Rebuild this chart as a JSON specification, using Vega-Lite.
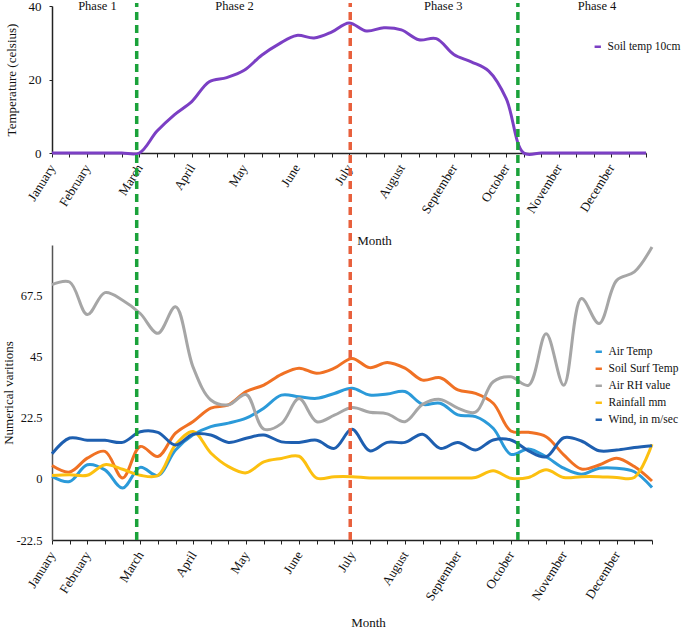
{
  "$schema": "https://vega.github.io/schema/vega-lite/v6.json",
  "autosize": {"type": "pad"},
  "padding": {"left": 2, "top": 0, "right": 0, "bottom": 0},
  "background": "white",
  "config": {
    "font": "Liberation Serif",
    "view": {"stroke": null},
    "axis": {"grid": false, "labelFont": "Liberation Serif", "titleFont": "Liberation Serif", "labelColor": "#111", "titleColor": "#111", "titleFontWeight": "normal", "domainColor": "#222", "tickColor": "#222", "domainWidth": 1.5, "labelOverlap": false},
    "legend": {"labelFont": "Liberation Serif", "labelColor": "#111"}
  },
  "datasets": {
    "soil10": [
      {"step":0,"series":"Soil temp 10cm","value":0},{"step":1,"series":"Soil temp 10cm","value":0},{"step":2,"series":"Soil temp 10cm","value":0},{"step":3,"series":"Soil temp 10cm","value":0},{"step":4,"series":"Soil temp 10cm","value":0},{"step":5,"series":"Soil temp 10cm","value":0},{"step":6,"series":"Soil temp 10cm","value":5.9},{"step":7,"series":"Soil temp 10cm","value":10.4},{"step":8,"series":"Soil temp 10cm","value":14},{"step":9,"series":"Soil temp 10cm","value":19.4},{"step":10,"series":"Soil temp 10cm","value":20.5},{"step":11,"series":"Soil temp 10cm","value":22.5},{"step":12,"series":"Soil temp 10cm","value":26.6},{"step":13,"series":"Soil temp 10cm","value":29.7},{"step":14,"series":"Soil temp 10cm","value":32},{"step":15,"series":"Soil temp 10cm","value":31.3},{"step":16,"series":"Soil temp 10cm","value":32.9},{"step":17,"series":"Soil temp 10cm","value":35.4},{"step":18,"series":"Soil temp 10cm","value":33.2},{"step":19,"series":"Soil temp 10cm","value":34.1},{"step":20,"series":"Soil temp 10cm","value":33.5},{"step":21,"series":"Soil temp 10cm","value":30.8},{"step":22,"series":"Soil temp 10cm","value":31.1},{"step":23,"series":"Soil temp 10cm","value":26.8},{"step":24,"series":"Soil temp 10cm","value":24.8},{"step":25,"series":"Soil temp 10cm","value":22.3},{"step":26,"series":"Soil temp 10cm","value":14.8},{"step":27,"series":"Soil temp 10cm","value":0},{"step":28,"series":"Soil temp 10cm","value":0},{"step":29,"series":"Soil temp 10cm","value":0},{"step":30,"series":"Soil temp 10cm","value":0},{"step":31,"series":"Soil temp 10cm","value":0},{"step":32,"series":"Soil temp 10cm","value":0},{"step":33,"series":"Soil temp 10cm","value":0},{"step":34,"series":"Soil temp 10cm","value":0}
    ],
    "met": [
      {"step":0,"series":"Air Temp","value":0.9},{"step":1,"series":"Air Temp","value":-1.0},{"step":2,"series":"Air Temp","value":5.2},{"step":3,"series":"Air Temp","value":3.3},{"step":4,"series":"Air Temp","value":-3.4},{"step":5,"series":"Air Temp","value":4.2},{"step":6,"series":"Air Temp","value":1.2},{"step":7,"series":"Air Temp","value":10.6},{"step":8,"series":"Air Temp","value":16.2},{"step":9,"series":"Air Temp","value":19.2},{"step":10,"series":"Air Temp","value":20.5},{"step":11,"series":"Air Temp","value":22.3},{"step":12,"series":"Air Temp","value":26},{"step":13,"series":"Air Temp","value":30.8},{"step":14,"series":"Air Temp","value":30.2},{"step":15,"series":"Air Temp","value":29.6},{"step":16,"series":"Air Temp","value":31.4},{"step":17,"series":"Air Temp","value":33.3},{"step":18,"series":"Air Temp","value":30.8},{"step":19,"series":"Air Temp","value":31.2},{"step":20,"series":"Air Temp","value":32.1},{"step":21,"series":"Air Temp","value":27.4},{"step":22,"series":"Air Temp","value":27.8},{"step":23,"series":"Air Temp","value":23.5},{"step":24,"series":"Air Temp","value":22.9},{"step":25,"series":"Air Temp","value":18.6},{"step":26,"series":"Air Temp","value":9.0},{"step":27,"series":"Air Temp","value":11.0},{"step":28,"series":"Air Temp","value":8.1},{"step":29,"series":"Air Temp","value":3.9},{"step":30,"series":"Air Temp","value":1.7},{"step":31,"series":"Air Temp","value":3.9},{"step":32,"series":"Air Temp","value":3.9},{"step":33,"series":"Air Temp","value":2.6},{"step":34,"series":"Air Temp","value":-3.2},
      {"step":0,"series":"Soil Surf Temp","value":4.9},{"step":1,"series":"Soil Surf Temp","value":2.5},{"step":2,"series":"Soil Surf Temp","value":7.6},{"step":3,"series":"Soil Surf Temp","value":10.1},{"step":4,"series":"Soil Surf Temp","value":0.3},{"step":5,"series":"Soil Surf Temp","value":11.9},{"step":6,"series":"Soil Surf Temp","value":8.2},{"step":7,"series":"Soil Surf Temp","value":16.8},{"step":8,"series":"Soil Surf Temp","value":21.1},{"step":9,"series":"Soil Surf Temp","value":26},{"step":10,"series":"Soil Surf Temp","value":27.2},{"step":11,"series":"Soil Surf Temp","value":32.1},{"step":12,"series":"Soil Surf Temp","value":34.5},{"step":13,"series":"Soil Surf Temp","value":38.4},{"step":14,"series":"Soil Surf Temp","value":40.7},{"step":15,"series":"Soil Surf Temp","value":38.8},{"step":16,"series":"Soil Surf Temp","value":40.7},{"step":17,"series":"Soil Surf Temp","value":44.3},{"step":18,"series":"Soil Surf Temp","value":40.9},{"step":19,"series":"Soil Surf Temp","value":42.8},{"step":20,"series":"Soil Surf Temp","value":40.7},{"step":21,"series":"Soil Surf Temp","value":36.3},{"step":22,"series":"Soil Surf Temp","value":37.2},{"step":23,"series":"Soil Surf Temp","value":32.7},{"step":24,"series":"Soil Surf Temp","value":31.4},{"step":25,"series":"Soil Surf Temp","value":27.8},{"step":26,"series":"Soil Surf Temp","value":17.6},{"step":27,"series":"Soil Surf Temp","value":17.1},{"step":28,"series":"Soil Surf Temp","value":15.5},{"step":29,"series":"Soil Surf Temp","value":8.8},{"step":30,"series":"Soil Surf Temp","value":3.6},{"step":31,"series":"Soil Surf Temp","value":5.1},{"step":32,"series":"Soil Surf Temp","value":7.6},{"step":33,"series":"Soil Surf Temp","value":4.5},{"step":34,"series":"Soil Surf Temp","value":-0.8},
      {"step":0,"series":"Air RH value","value":71.4},{"step":1,"series":"Air RH value","value":72.4},{"step":2,"series":"Air RH value","value":60.4},{"step":3,"series":"Air RH value","value":68.5},{"step":4,"series":"Air RH value","value":65.7},{"step":5,"series":"Air RH value","value":60.8},{"step":6,"series":"Air RH value","value":53.5},{"step":7,"series":"Air RH value","value":63.3},{"step":8,"series":"Air RH value","value":41},{"step":9,"series":"Air RH value","value":29},{"step":10,"series":"Air RH value","value":27.2},{"step":11,"series":"Air RH value","value":31},{"step":12,"series":"Air RH value","value":18.3},{"step":13,"series":"Air RH value","value":20.3},{"step":14,"series":"Air RH value","value":29.5},{"step":15,"series":"Air RH value","value":21},{"step":16,"series":"Air RH value","value":23.4},{"step":17,"series":"Air RH value","value":26.2},{"step":18,"series":"Air RH value","value":24.5},{"step":19,"series":"Air RH value","value":23.9},{"step":20,"series":"Air RH value","value":21},{"step":21,"series":"Air RH value","value":27.4},{"step":22,"series":"Air RH value","value":29.2},{"step":23,"series":"Air RH value","value":26},{"step":24,"series":"Air RH value","value":24.5},{"step":25,"series":"Air RH value","value":35.7},{"step":26,"series":"Air RH value","value":37.5},{"step":27,"series":"Air RH value","value":34.4},{"step":28,"series":"Air RH value","value":53.4},{"step":29,"series":"Air RH value","value":34.4},{"step":30,"series":"Air RH value","value":66.3},{"step":31,"series":"Air RH value","value":57.1},{"step":32,"series":"Air RH value","value":73},{"step":33,"series":"Air RH value","value":76.1},{"step":34,"series":"Air RH value","value":85.3},
      {"step":0,"series":"Rainfall mm","value":1.2},{"step":1,"series":"Rainfall mm","value":1.5},{"step":2,"series":"Rainfall mm","value":1.3},{"step":3,"series":"Rainfall mm","value":5.2},{"step":4,"series":"Rainfall mm","value":3.5},{"step":5,"series":"Rainfall mm","value":1.3},{"step":6,"series":"Rainfall mm","value":1.2},{"step":7,"series":"Rainfall mm","value":12.5},{"step":8,"series":"Rainfall mm","value":17.4},{"step":9,"series":"Rainfall mm","value":9.5},{"step":10,"series":"Rainfall mm","value":4.5},{"step":11,"series":"Rainfall mm","value":2.2},{"step":12,"series":"Rainfall mm","value":6.2},{"step":13,"series":"Rainfall mm","value":7.5},{"step":14,"series":"Rainfall mm","value":8.3},{"step":15,"series":"Rainfall mm","value":0.3},{"step":16,"series":"Rainfall mm","value":0.8},{"step":17,"series":"Rainfall mm","value":0.8},{"step":18,"series":"Rainfall mm","value":0.3},{"step":19,"series":"Rainfall mm","value":0.3},{"step":20,"series":"Rainfall mm","value":0.3},{"step":21,"series":"Rainfall mm","value":0.3},{"step":22,"series":"Rainfall mm","value":0.3},{"step":23,"series":"Rainfall mm","value":0.3},{"step":24,"series":"Rainfall mm","value":0.5},{"step":25,"series":"Rainfall mm","value":3.0},{"step":26,"series":"Rainfall mm","value":0.2},{"step":27,"series":"Rainfall mm","value":0.5},{"step":28,"series":"Rainfall mm","value":3.3},{"step":29,"series":"Rainfall mm","value":0.5},{"step":30,"series":"Rainfall mm","value":0.8},{"step":31,"series":"Rainfall mm","value":0.8},{"step":32,"series":"Rainfall mm","value":0.5},{"step":33,"series":"Rainfall mm","value":0.5},{"step":34,"series":"Rainfall mm","value":12.7},
      {"step":0,"series":"Wind, in m/sec","value":9.2},{"step":1,"series":"Wind, in m/sec","value":15},{"step":2,"series":"Wind, in m/sec","value":14.2},{"step":3,"series":"Wind, in m/sec","value":14.2},{"step":4,"series":"Wind, in m/sec","value":13.4},{"step":5,"series":"Wind, in m/sec","value":17.3},{"step":6,"series":"Wind, in m/sec","value":17.1},{"step":7,"series":"Wind, in m/sec","value":12.4},{"step":8,"series":"Wind, in m/sec","value":16.4},{"step":9,"series":"Wind, in m/sec","value":16.1},{"step":10,"series":"Wind, in m/sec","value":13.4},{"step":11,"series":"Wind, in m/sec","value":14.9},{"step":12,"series":"Wind, in m/sec","value":16.1},{"step":13,"series":"Wind, in m/sec","value":13.6},{"step":14,"series":"Wind, in m/sec","value":13.4},{"step":15,"series":"Wind, in m/sec","value":14.2},{"step":16,"series":"Wind, in m/sec","value":11.2},{"step":17,"series":"Wind, in m/sec","value":18.2},{"step":18,"series":"Wind, in m/sec","value":10.3},{"step":19,"series":"Wind, in m/sec","value":13.4},{"step":20,"series":"Wind, in m/sec","value":13.4},{"step":21,"series":"Wind, in m/sec","value":16.4},{"step":22,"series":"Wind, in m/sec","value":11.2},{"step":23,"series":"Wind, in m/sec","value":13.4},{"step":24,"series":"Wind, in m/sec","value":10.6},{"step":25,"series":"Wind, in m/sec","value":14.3},{"step":26,"series":"Wind, in m/sec","value":14.3},{"step":27,"series":"Wind, in m/sec","value":10.3},{"step":28,"series":"Wind, in m/sec","value":8.1},{"step":29,"series":"Wind, in m/sec","value":15.1},{"step":30,"series":"Wind, in m/sec","value":13.9},{"step":31,"series":"Wind, in m/sec","value":10.3},{"step":32,"series":"Wind, in m/sec","value":10.6},{"step":33,"series":"Wind, in m/sec","value":11.5},{"step":34,"series":"Wind, in m/sec","value":12.2}
    ],
    "phases": [
      {"pos":2.6,"label":"Phase 1"},{"pos":10.45,"label":"Phase 2"},{"pos":22.4,"label":"Phase 3"},{"pos":31.2,"label":"Phase 4"}
    ],
    "dividers": [
      {"pos":4.8,"kind":"green"},{"pos":16.9,"kind":"orange"},{"pos":26.4,"kind":"green"}
    ]
  },
  "bounds": "flush",
  "spacing": 92,
  "resolve": {"scale": {"color": "independent"}, "legend": {"color": "independent"}},
  "vconcat": [
    {
      "width": 594,
      "height": 147,
      "layer": [
        {
          "data": {"name": "soil10"},
          "mark": {"type": "line", "interpolate": "catmull-rom", "strokeWidth": 3},
          "encoding": {
            "x": {"field": "step", "type": "quantitative", "scale": {"domain": [0, 34], "nice": false, "zero": false},
              "axis": {"title": "Month", "values": [0,1,2,3,4,5,6,7,8,9,10,11,12,13,14,15,16,17,18,19,20,21,22,23,24,25,26,27,28,29,30,31,32,33,34], "tickCount": 40,
                "labelExpr": "datum.value==0?'January':datum.value==2?'February':datum.value==5?'March':datum.value==8?'April':datum.value==11?'May':datum.value==14?'June':datum.value==17?'July':datum.value==20?'August':datum.value==23?'September':datum.value==26?'October':datum.value==29?'November':datum.value==32?'December':''",
                "labelAngle": -58, "labelAlign": "right", "labelBaseline": "middle", "labelFontSize": 13, "labelOverlap": false, "labelBound": false, "labelFlush": false,
                "tickSize": 4, "labelPadding": 8, "titleFontSize": 13, "titleX": 322, "titleY": 81, "titleBaseline": "top"}},
            "y": {"field": "value", "type": "quantitative", "scale": {"domain": [0, 40], "nice": false},
              "axis": {"title": "Temperature (celsius)", "values": [0,10,20,30,40], "tickSize": 3, "labelPadding": 8, "titlePadding": 10, "labelFontSize": 13, "titleFontSize": 13}},
            "color": {"field": "series", "type": "nominal", "scale": {"domain": ["Soil temp 10cm"], "range": ["#7b3fc4"]},
              "legend": {"title": null, "orient": "none", "legendX": 540, "legendY": 35, "symbolType": "stroke", "symbolStrokeWidth": 2.5, "symbolSize": 40, "labelFontSize": 11.5}}
          }
        },
        {
          "data": {"name": "phases"},
          "mark": {"type": "text", "fontSize": 12.5, "baseline": "middle", "align": "center", "color": "#111"},
          "encoding": {
            "x": {"field": "pos", "type": "quantitative"},
            "y": {"datum": 40},
            "text": {"field": "label"}
          }
        }
      ]
    },
    {
      "width": 600,
      "height": 295,
      "layer": [
        {
          "data": {"name": "met"},
          "mark": {"type": "line", "interpolate": "catmull-rom", "strokeWidth": 3},
          "encoding": {
            "x": {"field": "step", "type": "quantitative", "scale": {"domain": [0, 34], "nice": false, "zero": false},
              "axis": {"title": "Month", "values": [0,1,2,3,4,5,6,7,8,9,10,11,12,13,14,15,16,17,18,19,20,21,22,23,24,25,26,27,28,29,30,31,32,33,34], "tickCount": 40,
                "labelExpr": "datum.value==0?'January':datum.value==2?'February':datum.value==5?'March':datum.value==8?'April':datum.value==11?'May':datum.value==14?'June':datum.value==17?'July':datum.value==20?'August':datum.value==23?'September':datum.value==26?'October':datum.value==29?'November':datum.value==32?'December':''",
                "labelAngle": -58, "labelAlign": "right", "labelBaseline": "middle", "labelFontSize": 13, "labelOverlap": false, "labelBound": false, "labelFlush": false,
                "tickSize": 4, "labelPadding": 8, "titleFontSize": 13, "titleX": 316, "titleY": 76, "titleBaseline": "top"}},
            "y": {"field": "value", "type": "quantitative", "scale": {"domain": [-22.5, 86], "nice": false, "zero": false},
              "axis": {"title": "Numerical varitions", "values": [-22.5, 0, 22.5, 45, 67.5], "labelExpr": "'' + datum.value", "tickSize": 0, "labelPadding": 10, "titlePadding": 0, "labelFontSize": 12.5, "titleFontSize": 13, "domainColor": "#555"}},
            "color": {"field": "series", "type": "nominal",
              "scale": {"domain": ["Air Temp", "Soil Surf Temp", "Air RH value", "Rainfall mm", "Wind, in m/sec"], "range": ["#2b9ad9", "#f07124", "#a6a6a6", "#fcc010", "#1e5fb0"]},
              "legend": {"title": null, "orient": "none", "legendX": 541, "legendY": 101, "symbolType": "stroke", "symbolStrokeWidth": 2.5, "symbolSize": 40, "labelFontSize": 11.5, "rowPadding": 4}}
          }
        },
        {
          "data": {"name": "dividers"},
          "transform": [{"filter": "datum.kind == 'green'"}],
          "mark": {"type": "rule", "color": "#1aa23a", "strokeWidth": 3.5, "strokeDash": [8, 5]},
          "encoding": {
            "x": {"field": "pos", "type": "quantitative"},
            "y": {"datum": -22.5},
            "y2": {"datum": 175}
          }
        },
        {
          "data": {"name": "dividers"},
          "transform": [{"filter": "datum.kind == 'orange'"}],
          "mark": {"type": "rule", "color": "#e8603c", "strokeWidth": 3.5, "strokeDash": [8, 5]},
          "encoding": {
            "x": {"field": "pos", "type": "quantitative"},
            "y": {"datum": -22.5},
            "y2": {"datum": 175}
          }
        }
      ]
    }
  ]
}
